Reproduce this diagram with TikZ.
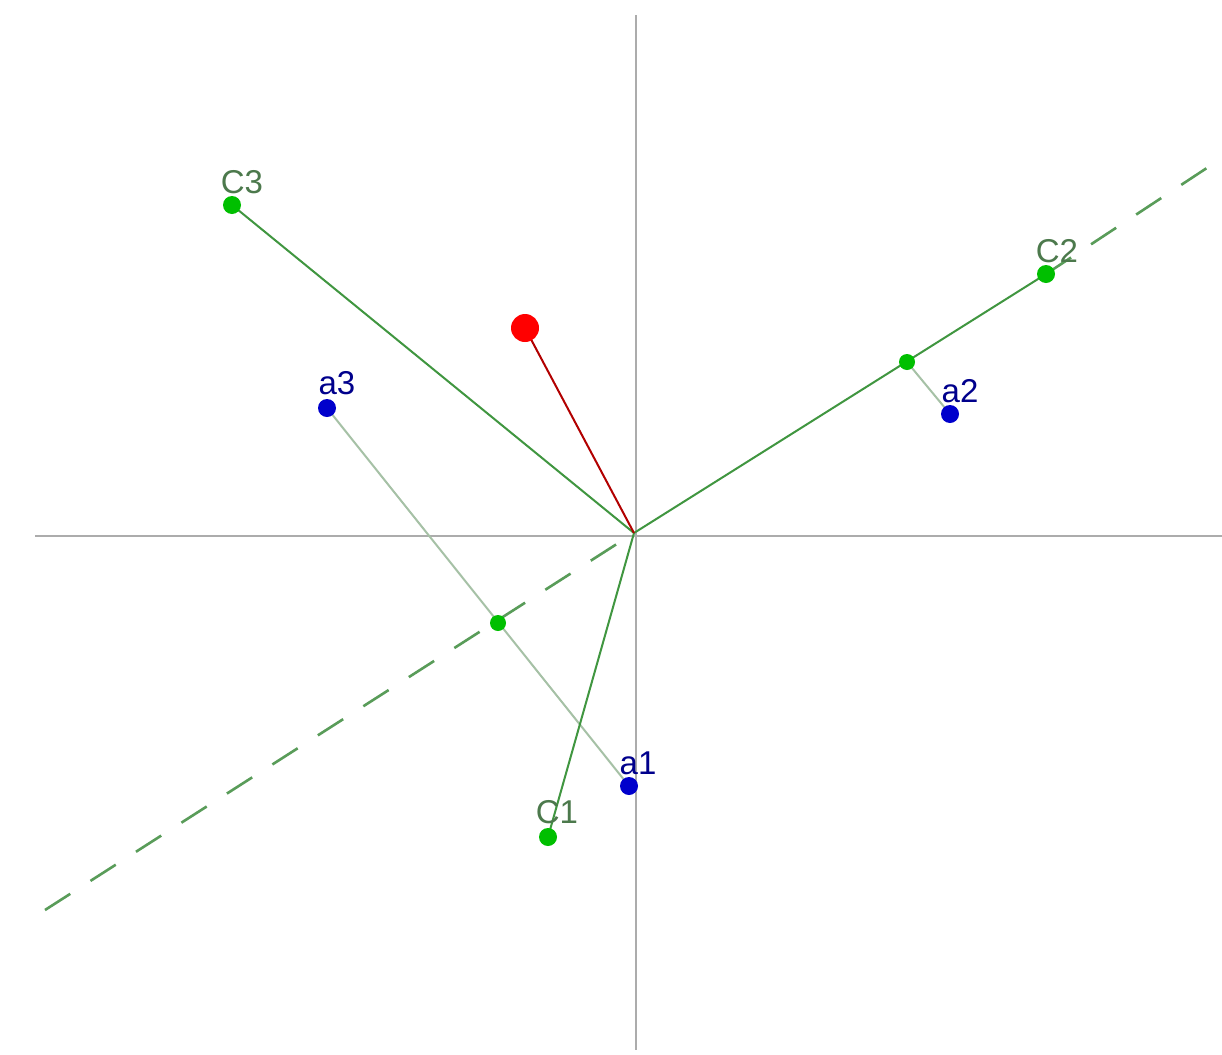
\documentclass[tikz,border=0pt]{standalone}
\usepackage{fontspec}
\setmainfont{Liberation Sans}
\begin{document}
\begin{tikzpicture}[x=0.5pt,y=-0.5pt,
  axis/.style={draw=gray!65,line width=1pt},
  gline/.style={draw=green!45!black!75,line width=1pt},
  lgline/.style={draw=green!30!black!35,line width=1pt},
  dline/.style={draw=green!40!black!65,line width=1.3pt,dash pattern=on 15pt off 12pt},
  rline/.style={draw=red!70!black,line width=1pt},
  gdot/.style={fill=green!75!black},
  bdot/.style={fill=blue!80!black},
  clab/.style={text=green!25!black!70,font=\fontsize{16.5}{18}\selectfont,inner sep=0pt},
  alab/.style={text=blue!55!black,font=\fontsize{16.5}{18}\selectfont,inner sep=0pt}]
\useasboundingbox (0,0) rectangle (1222,1055);
\fill[white] (0,0) rectangle (1222,1055);
% axes
\coordinate (yt) at (636,15); \coordinate (yb) at (636,1050);
\coordinate (xl) at (35,536); \coordinate (xr) at (1222,536);
\draw[axis] (yt) -- (yb);
\draw[axis] (xl) -- (xr);
% points
\coordinate (O) at (634,533);
\coordinate (C1) at (548,837);
\coordinate (C2) at (1046,274);
\coordinate (C3) at (232,205);
\coordinate (a1) at (629,786);
\coordinate (a2) at (950,414);
\coordinate (a3) at (327,408);
\coordinate (f3) at (498,623);
\coordinate (f2) at (907,362);
\coordinate (R) at (525,328);
\coordinate (dl) at (45,910);
\coordinate (dr) at (1222,158);
% dashed line
\draw[dline] (dl) -- (O);
\draw[dline] (C2) -- (dr);
% projections
\draw[lgline] (a3) -- (a1);
\draw[lgline] (a2) -- (f2);
% vectors
\draw[gline] (O) -- (C1);
\draw[gline] (O) -- (C2);
\draw[gline] (O) -- (C3);
\draw[rline] (O) -- (R);
% dots
\fill[gdot] (C1) circle (4.5pt);
\fill[gdot] (C2) circle (4.5pt);
\fill[gdot] (C3) circle (4.5pt);
\fill[gdot] (f3) circle (4pt);
\fill[gdot] (f2) circle (4pt);
\fill[bdot] (a1) circle (4.5pt);
\fill[bdot] (a2) circle (4.5pt);
\fill[bdot] (a3) circle (4.5pt);
\fill[red] (R) circle (7pt);
% labels
\node[clab] (lC1) at (557,812) {C1};
\node[clab] (lC2) at (1057,251) {C2};
\node[clab] (lC3) at (242,182) {C3};
\node[alab] (la1) at (638,763) {a1};
\node[alab] (la2) at (960,391) {a2};
\node[alab] (la3) at (337,383) {a3};
\end{tikzpicture}
\end{document}
